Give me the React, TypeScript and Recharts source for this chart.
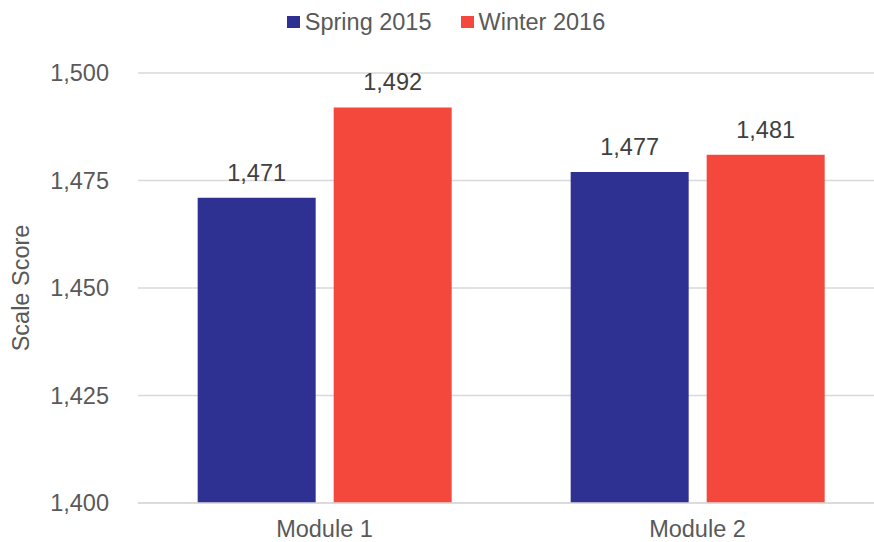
import React from "react";
import {
  BarChart,
  Bar,
  XAxis,
  YAxis,
  CartesianGrid,
  Legend,
  LabelList,
} from "recharts";

const categories = ["Module 1", "Module 2"];
const spring2015 = [1471, 1477];
const winter2016 = [1492, 1481];
const yTicks = [1400, 1425, 1450, 1475, 1500];

const seriesNames = ["Spring 2015", "Winter 2016"];
const colors = ["#2E3192", "#F4483C"]; // navy, red

const FONT = "'Liberation Sans', Arial, sans-serif";
const fmt = (v: any) => Number(v).toLocaleString("en-US");

const data = categories.map((name, i) => ({
  name,
  spring: spring2015[i],
  winter: winter2016[i],
}));

// legend drawn as html, the height pushes the plot down
const renderLegend = () => (
  <div
    style={{
      height: 73,
      display: "flex",
      justifyContent: "center",
      paddingLeft: 8,
      paddingTop: 8,
      boxSizing: "border-box",
      fontFamily: FONT,
      fontSize: 23.5,
      color: "#595959",
    }}
  >
    {seriesNames.map((s, i) => (
      <div
        key={s}
        style={{
          display: "flex",
          alignItems: "center",
          height: 28,
          marginRight: i === 0 ? 29 : 0,
        }}
      >
        <span
          style={{
            width: 13,
            height: 12,
            background: colors[i],
            marginRight: 5,
            display: "inline-block",
          }}
        />
        <span>{s}</span>
      </div>
    ))}
  </div>
);

export default function App() {
  return (
    <div
      style={{
        position: "absolute",
        left: 0,
        top: 0,
        width: 874,
        height: 542,
        overflow: "hidden",
        background: "#fff",
      }}
    >
      <BarChart
        width={884}
        height={542}
        data={data}
        margin={{ top: 0, right: 0, bottom: 0, left: 0 }}
        barCategoryGap="16%"
        barGap={18}
        style={{ fontFamily: FONT }}
      >
        <Legend verticalAlign="top" content={renderLegend} />
        <CartesianGrid
          vertical={false}
          stroke="#D9D9D9"
          strokeWidth={1.5}
        />
        <XAxis
          dataKey="name"
          height={39}
          tickLine={false}
          tickSize={0}
          tickMargin={17}
          axisLine={{ stroke: "#D9D9D9", strokeWidth: 1.5 }}
          tick={{ fill: "#595959", fontSize: 23.5 }}
        />
        <YAxis
          width={138}
          domain={[1400, 1500]}
          ticks={yTicks}
          interval={0}
          tickFormatter={fmt}
          axisLine={false}
          tickLine={false}
          tickSize={0}
          tickMargin={29}
          tick={{ fill: "#595959", fontSize: 23.5 }}
          label={{
            value: "Scale Score",
            angle: -90,
            position: "insideLeft",
            offset: 21,
            fill: "#595959",
            fontSize: 23.5,
            style: { textAnchor: "middle" },
          }}
        />
        <Bar dataKey="spring" name={seriesNames[0]} fill={colors[0]} isAnimationActive={false}>
          <LabelList
            dataKey="spring"
            position="top"
            offset={17}
            formatter={fmt}
            fill="#404040"
            fontSize={23.5}
          />
        </Bar>
        <Bar dataKey="winter" name={seriesNames[1]} fill={colors[1]} isAnimationActive={false}>
          <LabelList
            dataKey="winter"
            position="top"
            offset={17}
            formatter={fmt}
            fill="#404040"
            fontSize={23.5}
          />
        </Bar>
      </BarChart>
    </div>
  );
}
